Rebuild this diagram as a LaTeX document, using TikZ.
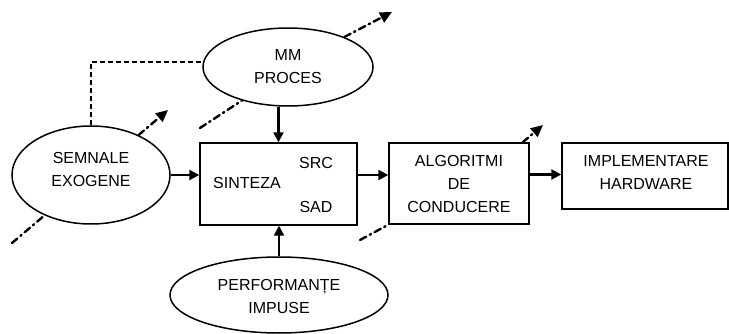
\documentclass[tikz,border=0pt]{standalone}
\usepackage{fontspec}
\setmainfont{Liberation Sans}
\usetikzlibrary{shapes.geometric,arrows.meta}

\tikzset{
  ellip/.style={ellipse, draw, line width=1.5pt, fill=white, inner sep=0pt},
  blockbox/.style={rectangle, draw, line width=1.4pt, fill=white, inner sep=0pt},
  lbl/.style={align=center, inner sep=0pt, font=\fontsize{16}{23}\selectfont},
  flow/.style={line width=2.2pt, -{Triangle[length=10pt, width=10pt]}},
  link/.style={line width=1.5pt, dash pattern=on 5pt off 3pt},
  disturb/.style={line width=2.4pt, line cap=round, dash pattern=on 7pt off 4pt on 1.5pt off 4pt},
  disturbarrow/.style={disturb, -{Triangle[length=12pt, width=11pt]}}
}

\begin{document}
\begin{tikzpicture}[x=1pt, y=-1pt]
  \useasboundingbox (0,0) rectangle (729,334);

  % ellipses
  \node[ellip, minimum width=158pt, minimum height=98pt] (sem) at (91,175) {};
  \node[lbl] (semtxt) at (91,169) {SEMNALE\\EXOGENE};

  \node[ellip, minimum width=170pt, minimum height=78pt] (mm) at (288,67) {};
  \node[lbl] (mmtxt) at (288,67) {MM\\PROCES};

  \node[ellip, minimum width=218pt, minimum height=76pt] (perf) at (279,295) {};
  \node[lbl] (perftxt) at (279,296) {PERFORMANȚE\\IMPUSE};

  % blocks
  \node[blockbox, minimum width=157pt, minimum height=82pt] (sint) at (278.5,184) {};
  \node[lbl] (sinttxt) at (247,183) {SINTEZA};
  \node[lbl] (src) at (316,163) {SRC};
  \node[lbl] (sad) at (316,207) {SAD};

  \node[blockbox, minimum width=140pt, minimum height=81pt] (alg) at (459,183.5) {};
  \node[lbl] (algtxt) at (459,184) {ALGORITMI\\DE\\CONDUCERE};

  \node[blockbox, minimum width=166pt, minimum height=66pt] (impl) at (645,176) {};
  \node[lbl] (impltxt) at (646,172) {IMPLEMENTARE\\HARDWARE};

  % main signal flow
  \draw[flow] (sem.east) -- (sem.east -| sint.west);
  \draw[flow] ([yshift=9pt]sint.east) -- ([yshift=9pt]sint.east -| alg.west);
  \draw[flow] ([yshift=9pt]alg.east) -- ([yshift=9pt]alg.east -| impl.west);
  \draw[flow] (mm.south -| sint.north) -- (sint.north);
  \draw[flow] (perf.north) -- (perf.north |- sint.south);

  % dashed link between the two ellipses
  \coordinate (bend) at (91,62);
  \draw[link] (sem.north) -- (bend) -- (mm.west |- bend);

  % disturbance arrows
  \coordinate (semin) at (12,243);
  \coordinate (semout) at (168,110);
  \draw[disturb] (semin) -- (sem.221);
  \draw[disturbarrow] (sem.40) -- (semout);

  \coordinate (mmin) at (200,128);
  \coordinate (mmout) at (392,12);
  \draw[disturb] (mmin) -- (mm.216);
  \draw[disturbarrow] (mm.28) -- (mmout);

  \coordinate (algin) at (360,240);
  \coordinate (algout) at (543,125);
  \draw[disturb] (algin) -- (alg.south west);
  \draw[disturbarrow] ([xshift=-7pt]alg.north east) -- (algout);
\end{tikzpicture}
\end{document}
